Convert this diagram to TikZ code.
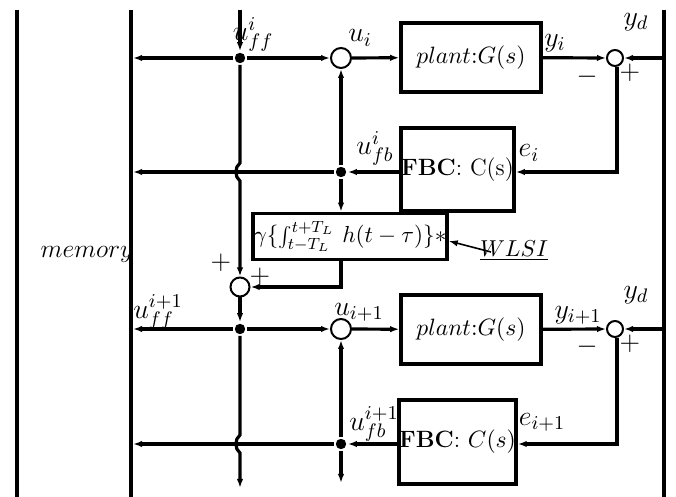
\RequirePackage{fix-cm}
\documentclass[tikz,border=0pt]{standalone}
\usetikzlibrary{arrows.meta}
\begin{document}
\begin{tikzpicture}[x=0.5pt,y=-0.5pt,
  line width=1.6pt,
  font=\fontsize{11.8}{14}\selectfont,
  >={Latex[length=4.5pt,width=3.2pt]},
  blockbox/.style={draw, line width=1.8pt, inner sep=0pt, rectangle},
  sumnode/.style={draw, circle, line width=1pt, minimum size=10pt, inner sep=0pt, fill=white},
  dotnode/.style={circle, fill, minimum size=5.2pt, inner sep=0pt},
  lbl/.style={inner sep=0pt, font=\fontsize{14}{16}\selectfont},
  sgn/.style={inner sep=0pt, font=\fontsize{13.5}{15}\selectfont},
  busline/.style={line width=1.8pt},
  thinarrow/.style={line width=0.8pt}]
\useasboundingbox (0,0) rectangle (676,497);

% memory / bus lines
\coordinate (m1t) at (17,10);  \coordinate (m1b) at (17,497);
\coordinate (m2t) at (131,10); \coordinate (m2b) at (131,497);
\coordinate (rt) at (664,10);  \coordinate (rb) at (664,497);
\draw[busline] (m1t) -- (m1b);
\draw[busline] (m2t) -- (m2b);
\draw[busline] (rt) -- (rb);

% blocks
\node[blockbox, minimum width=70pt, minimum height=34.5pt] (plant1) at (471,57.5) {$plant{:}G(s)$};
\node[blockbox, minimum width=56.5pt, minimum height=41.5pt] (fbc1) at (457.5,169.5) {\textbf{FBC}: C(s)};
\node[blockbox, minimum width=97pt, minimum height=23pt, font=\fontsize{11.6}{13}\selectfont] (gam) at (350,236.5) {$\gamma\{\int_{t-T_L}^{t+T_L}\,h(t-\tau)\}{*}$};
\node[blockbox, minimum width=70pt, minimum height=34.5pt] (plant2) at (471,329.5) {$plant{:}G(s)$};
\node[blockbox, minimum width=56.5pt, minimum height=42pt] (fbc2) at (457.5,442) {\textbf{FBC}: $C(s)$};

% summing junctions
\node[sumnode] (s1) at (341,58) {};
\node[sumnode, minimum size=8pt] (e1) at (615,58) {};
\node[sumnode, minimum size=9.5pt] (s2) at (240,287) {};
\node[sumnode] (s3) at (341,329) {};
\node[sumnode, minimum size=8pt] (e2) at (615,329) {};

% branch dots
\node[dotnode] (d1) at (240,58) {};
\node[dotnode] (d2) at (341,172) {};
\node[dotnode] (d3) at (240,329) {};
\node[dotnode] (d4) at (341,444) {};

% free ends
\coordinate (fftop) at (240,10);
\coordinate (ffbot) at (240,488);
\coordinate (fbbot) at (341,483);
\coordinate (l1) at (133,58);
\coordinate (l2) at (133,172);
\coordinate (l3) at (133,329);
\coordinate (l4) at (133,444);
\coordinate (yd1) at (664,58);
\coordinate (yd2) at (664,329);

% row i
\draw[->] (fftop) -- (d1);
\draw[->] (d1) -- (l1);
\draw[->] (d1) -- (s1);
\draw[->] (s1) -- (plant1);
\draw[->] (plant1) -- (e1);
\draw[->] (yd1) -- (e1);
\draw[->] ([xshift=1pt]e1.south) |- (fbc1.east |- d2);
\draw[->] (fbc1.west |- d2) -- (d2);
\draw[->] (d2) -- (s1);
\draw[->] (d2) -- (l2);
\draw[->] (d2) -- (gam.north -| d2);
\draw[->] (gam.south -| d2) |- (s2);
\draw[->] (d1) -- (240,163) .. controls (234.5,167) and (234.5,177) .. (240,181) -- (s2);
\draw[->] (s2) -- (d3);

% row i+1
\draw[->] (d3) -- (l3);
\draw[->] (d3) -- (s3);
\draw[->] (s3) -- (plant2);
\draw[->] (plant2) -- (e2);
\draw[->] (yd2) -- (e2);
\draw[->] ([xshift=1pt]e2.south) |- (fbc2.east |- d4);
\draw[->] (fbc2.west |- d4) -- (d4);
\draw[->] (d4) -- (s3);
\draw[->] (d4) -- (l4);
\draw[->] (d4) -- (fbbot);
\draw[->] (d3) -- (240,435) .. controls (234.5,439) and (234.5,449) .. (240,453) -- (ffbot);

% WLSI
\node[inner sep=0pt, font=\fontsize{11.5}{13}\selectfont] (wlsi) at (514,251) {$\underline{WLSI}$};
\coordinate (wlsiend) at (491,252);
\draw[->, thinarrow] (wlsiend) -- (gam.east |- 0,241);

% labels
\node[lbl] (luff1) at (253,34) {$u^i_{ff}$};
\node[lbl] (lui) at (360,38) {$u_i$};
\node[lbl] (lyi) at (555,43) {$y_i$};
\node[sgn] (lm1) at (587,77) {$-$};
\node[sgn] (lp1) at (630,73) {$+$};
\node[lbl] (lyd1) at (636,22) {$y_d$};
\node[lbl] (lufb1) at (375,148) {$u^i_{fb}$};
\node[lbl] (lei) at (529,153) {$e_i$};
\node[lbl, font=\fontsize{12.8}{15}\selectfont] (lmem) at (87,254) {$memory$};
\node[sgn] (lp2) at (221,263) {$+$};
\node[sgn] (lp3) at (260,277) {$+$};
\node[lbl] (luff2) at (158,312) {$u^{i+1}_{ff}$};
\node[lbl] (lui2) at (359,312) {$u_{i+1}$};
\node[lbl] (lyi2) at (578,315) {$y_{i+1}$};
\node[lbl] (lyd2) at (636,295) {$y_d$};
\node[sgn] (lm2) at (587,347) {$-$};
\node[sgn] (lp4) at (630,344) {$+$};
\node[lbl] (lufb2) at (374,424) {$u^{i+1}_{fb}$};
\node[lbl] (lei2) at (542,422) {$e_{i+1}$};
\end{tikzpicture}
\end{document}
